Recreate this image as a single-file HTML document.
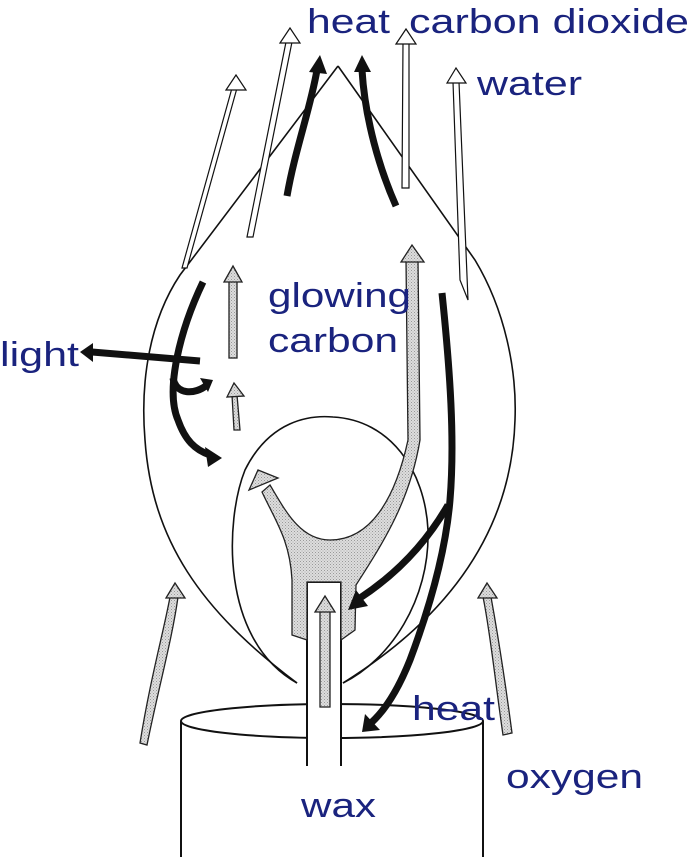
<!DOCTYPE html>
<html><head><meta charset="utf-8"><style>
html,body{margin:0;padding:0;background:#fff;}
svg{display:block;}
text{font-family:"Liberation Sans",sans-serif;fill:#1a237e;}
</style></head><body>
<svg width="689" height="857" viewBox="0 0 689 857" xmlns="http://www.w3.org/2000/svg">
<defs>
<pattern id="dots" width="3" height="3" patternUnits="userSpaceOnUse">
<rect width="3" height="3" fill="#ddd"/><rect width="1" height="1" fill="#999"/><rect x="1.5" y="1.5" width="1" height="1" fill="#aaa"/>
</pattern>
</defs>
<g fill="none" stroke="#111" stroke-width="1.6">
<!-- outer flame -->
<path d="M338,66 L180,275 C150,320 140,380 145,440 C152,540 200,610 297,683"/>
<path d="M338,66 L475,260 C505,310 517,370 515,420 C512,520 460,610 343,683"/>
<!-- inner circle/flame -->
<path d="M297,683 C220,640 225,520 245,470 C270,420 310,415 333,417 C390,420 425,470 428,530 C430,600 390,660 343,683"/>
<!-- candle -->
<ellipse cx="332" cy="721" rx="151" ry="17" fill="#fff" stroke-width="2"/>
<path d="M181,721 V857 M483,721 V857" stroke-width="2"/>
</g>
<!-- wick -->
<rect x="307" y="582" width="34" height="186" fill="#fff" stroke="#111" stroke-width="2"/>
<rect x="308" y="704" width="32" height="20" fill="#fff"/>
<path d="M307,704 V768 M341,704 V768" stroke="#111" stroke-width="2"/>
<rect x="306" y="766" width="37" height="4" fill="#fff"/>
<!-- shaded Y -->
<path d="M262,492 C275,520 290,540 292,580 L292,635 L307,640 L307,582 L341,582 L341,640 L355,630 L356,585 C385,540 410,500 420,440 L418,260 L406,260 L408,440 C395,500 370,540 330,540 C300,540 285,510 270,485 Z" fill="url(#dots)" stroke="#222" stroke-width="1.3"/>
<polygon points="249,490 258,470 278,478" fill="url(#dots)" stroke="#222" stroke-width="1.3"/>
<polygon points="401,262 412,245 424,262" fill="url(#dots)" stroke="#222" stroke-width="1.3"/>
<!-- gray arrows -->
<g fill="url(#dots)" stroke="#222" stroke-width="1.3">
<rect x="320" y="610" width="10" height="97"/>
<polygon points="315,612 325,596 335,612"/>
<rect x="229" y="280" width="8" height="78"/>
<polygon points="224,282 233,266 242,282"/>
<polygon points="234,430 240,430 237,395 232,395"/>
<polygon points="227,397 234,383 244,396"/>
<path d="M140,743 C150,680 164,630 170,597 L178,597 C172,640 158,690 147,745 Z"/>
<polygon points="166,598 175,583 185,598"/>
<path d="M503,735 C495,680 490,630 483,597 L491,597 C497,630 505,680 512,733 Z"/>
<polygon points="478,598 487,583 497,598"/>
</g>
<!-- white arrows -->
<g fill="#fff" stroke="#111" stroke-width="1.2">
<path d="M182,268 L232,88 L237,88 L187,268 Z"/>
<polygon points="226,90 236,75 246,90"/>
<path d="M247,237 L286,42 L292,42 L253,237 Z"/>
<polygon points="280,43 290,28 300,43"/>
<path d="M402,188 L403,42 L409,42 L409,188 Z"/>
<polygon points="396,44 406,29 416,44"/>
<path d="M460,280 L453,82 L459,82 L468,300 Z"/>
<polygon points="447,83 456,68 466,83"/>
</g>
<!-- black arrows -->
<g fill="none" stroke="#111" stroke-width="7">
<path d="M287,196 C295,150 310,110 317,70"/>
<path d="M396,206 C380,170 365,120 362,70"/>
<path d="M203,282 C180,330 165,390 178,420 C185,440 195,450 210,455"/>
<path d="M200,361 L92,352"/>
<path d="M173,378 C176,395 195,395 207,385"/>
<path d="M442,293 C450,370 455,440 450,500 C445,560 425,620 410,660 C398,690 385,710 372,722"/>
<path d="M448,505 C425,545 395,575 360,598"/>
</g>
<g fill="#111">
<polygon points="309,72 320,55 327,74"/>
<polygon points="354,72 362,55 371,72"/>
<polygon points="205,447 222,458 208,467"/>
<polygon points="93,343 80,352 93,362"/>
<polygon points="200,378 213,380 208,392"/>
<polygon points="356,590 348,610 368,606"/>
<polygon points="365,714 362,732 380,730"/>
</g>
<!-- labels -->
<g font-size="34">
<text x="307" y="33" textLength="83" lengthAdjust="spacingAndGlyphs">heat</text>
<text x="409" y="33" textLength="280" lengthAdjust="spacingAndGlyphs">carbon dioxide</text>
<text x="477" y="95" textLength="105" lengthAdjust="spacingAndGlyphs">water</text>
<text x="268" y="307" textLength="143" lengthAdjust="spacingAndGlyphs">glowing</text>
<text x="268" y="352" textLength="130" lengthAdjust="spacingAndGlyphs">carbon</text>
<text x="0" y="366" textLength="79" lengthAdjust="spacingAndGlyphs">light</text>
<text x="412" y="720" textLength="83" lengthAdjust="spacingAndGlyphs">heat</text>
<text x="506" y="788" textLength="137" lengthAdjust="spacingAndGlyphs">oxygen</text>
<text x="301" y="817" textLength="75" lengthAdjust="spacingAndGlyphs">wax</text>
</g>
</svg>
</body></html>
